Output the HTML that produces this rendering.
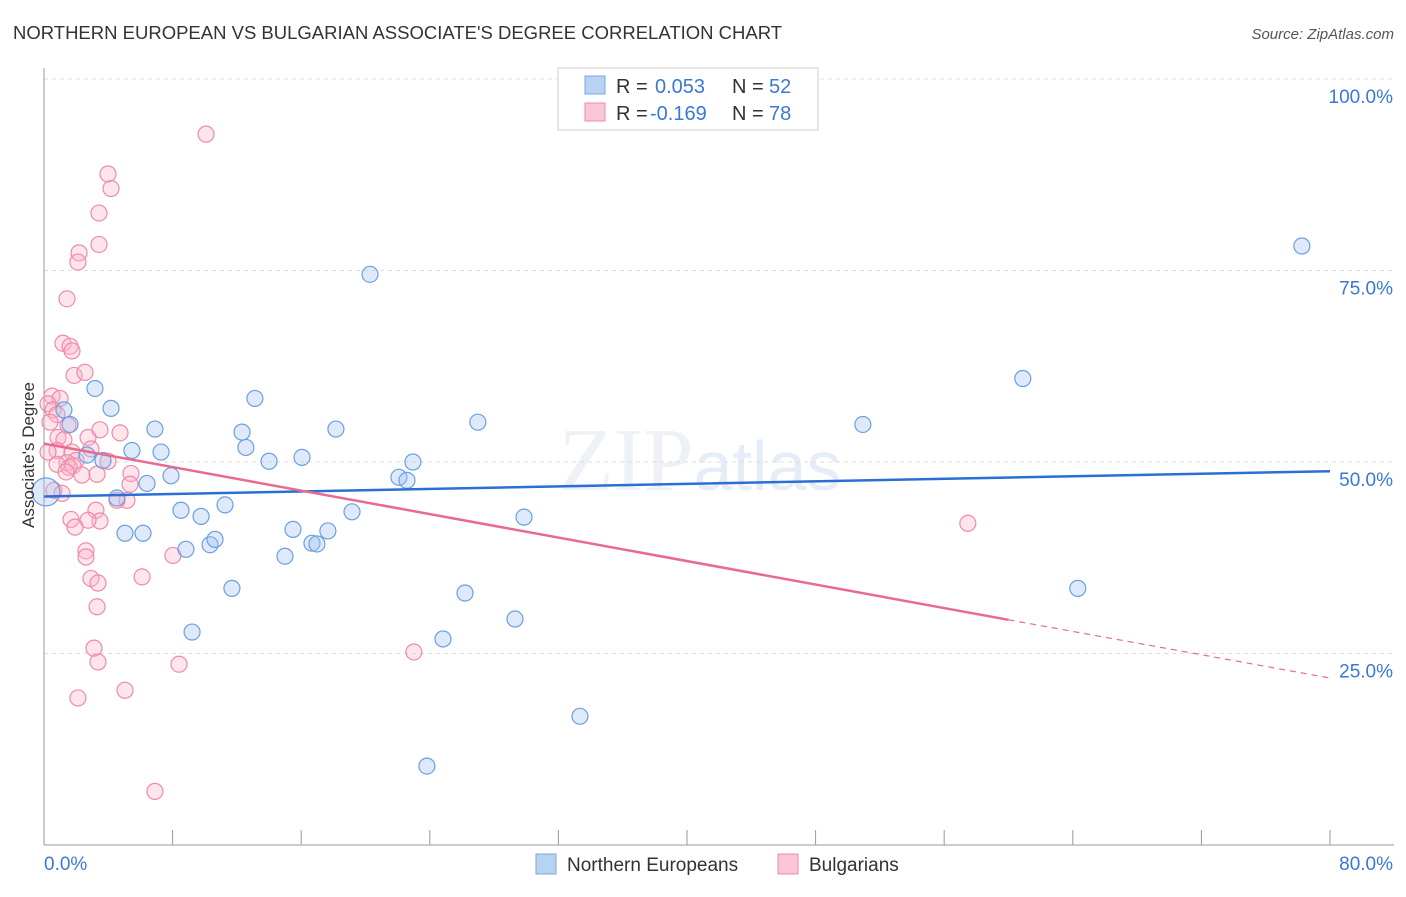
<!DOCTYPE html>
<html><head><meta charset="utf-8">
<style>
html,body{margin:0;padding:0;background:#fff;}
body{width:1406px;height:892px;overflow:hidden;font-family:"Liberation Sans",sans-serif;}
</style></head>
<body>
<svg id="chart" width="1406" height="892" xmlns="http://www.w3.org/2000/svg" font-family="Liberation Sans, sans-serif">
<text x="13" y="39" font-size="18.5" fill="#333">NORTHERN EUROPEAN VS BULGARIAN ASSOCIATE'S DEGREE CORRELATION CHART</text>
<text x="1394" y="39" font-size="15" fill="#555" font-style="italic" text-anchor="end">Source: ZipAtlas.com</text>
<text x="700" y="490" font-size="90" fill="#eef1f5" text-anchor="middle" font-family="Liberation Serif, serif">ZIP<tspan fill="#e6edf8" font-family="Liberation Sans, sans-serif" font-size="70">atlas</tspan></text>
<g id="grid"></g>
<g id="axes"></g>
<g id="marks"></g>
<text transform="translate(34,455) rotate(-90)" font-size="17" fill="#333" text-anchor="middle">Associate's Degree</text>
<g>
<rect x="558" y="68" width="260" height="62" fill="#fff" stroke="#ccc"/>
<rect x="585" y="76" width="20" height="18" fill="#b8d2f2" stroke="#7aa7e0"/>
<text x="616" y="93" font-size="20" fill="#333">R = <tspan x="655" fill="#3a78d6">0.053</tspan><tspan x="732">N = </tspan><tspan x="769" fill="#3a78d6">52</tspan></text>
<rect x="585" y="103" width="20" height="18" fill="#f9c6d5" stroke="#f08aaa"/>
<text x="616" y="120" font-size="20" fill="#333">R = <tspan x="650" fill="#3a78d6">-0.169</tspan><tspan x="732">N = </tspan><tspan x="769" fill="#3a78d6">78</tspan></text>
</g>
<g>
<rect x="536" y="854" width="20" height="20" fill="#b8d2f2" stroke="#7aa7e0"/>
<text x="567" y="871" font-size="19" fill="#333">Northern Europeans</text>
<rect x="778" y="854" width="20" height="20" fill="#f9c6d5" stroke="#f08aaa"/>
<text x="809" y="871" font-size="19" fill="#333">Bulgarians</text>
</g>
</svg>
<script>
const blueX=[0.12,1.24,1.62,3.17,4.17,2.67,3.67,4.54,5.04,5.47,6.16,6.41,6.90,7.28,7.90,8.52,8.83,9.21,9.77,10.33,10.64,11.26,11.69,12.32,12.56,13.12,14.0,14.99,15.49,16.05,16.67,16.98,17.66,18.16,19.16,20.28,22.08,22.58,22.95,23.82,24.82,26.19,26.99,29.3,29.86,33.34,50.94,60.89,64.31,78.25];
const blueY=[46.1,56.8,54.9,59.6,57.0,50.9,50.2,45.3,40.7,51.5,40.7,47.2,54.3,51.3,48.2,43.7,38.6,27.8,42.9,39.2,39.9,44.4,33.5,53.9,51.9,58.3,50.1,37.7,41.2,50.6,39.4,39.3,41.0,54.3,43.5,74.5,48.0,47.6,50.0,10.3,26.9,32.9,55.2,29.5,42.8,16.8,54.9,60.9,33.5,78.2];
const pinkX=[10.08,3.98,4.17,3.42,3.42,2.18,2.11,1.43,1.18,1.62,1.74,1.87,2.55,0.50,1.0,0.25,0.56,0.81,1.49,0.37,0.87,1.24,2.74,3.48,4.73,0.81,0.25,1.74,2.92,1.99,1.43,1.56,1.80,3.98,0.81,1.37,2.36,3.30,5.41,5.35,5.16,0.62,1.12,4.54,3.23,1.68,3.48,2.74,1.93,2.61,2.61,2.92,3.36,6.10,3.30,8.02,3.11,3.36,8.40,5.04,2.11,6.90,23.01,57.47];
const pinkY=[92.8,87.6,85.7,82.5,78.4,77.3,76.1,71.3,65.5,65.1,64.5,61.3,61.7,58.6,58.3,57.6,56.8,56.2,54.8,55.2,53.2,52.9,53.2,54.2,53.8,51.5,51.3,51.3,51.7,50.2,49.9,49.3,49.5,50.1,49.7,48.7,48.3,48.4,48.5,47.1,45.0,46.3,45.9,45.0,43.7,42.5,42.3,42.4,41.5,38.4,37.6,34.8,34.2,35.0,31.1,37.8,25.7,23.9,23.6,20.2,19.2,7.0,25.2,42.0];
const blueTrend=[45.5,48.8];
const pinkTrend=[52.4,29.4,21.8];
const pinkTrendX=[0,60,80];
const yTicks=[25,50,75,100];
const yTickLabels=["25.0%","50.0%","75.0%","100.0%"];
const xTickVals=[0,8,16,24,32,40,48,56,64,72,80];
const NS="http://www.w3.org/2000/svg";
const sx=v=>44+v/80*1286;
const sy=v=>845-v/100*766;
function mk(tag,attrs,parent){const e=document.createElementNS(NS,tag);for(const k in attrs)e.setAttribute(k,attrs[k]);parent.appendChild(e);return e;}
const grid=document.getElementById('grid'),axes=document.getElementById('axes'),marks=document.getElementById('marks');
yTicks.forEach((t,i)=>{
  const l=mk('line',{x1:44,y1:sy(t),x2:1394,y2:sy(t),stroke:'#ddd','stroke-dasharray':'4,4'},grid);
  
  
  const tx=mk('text',{x:1393,y:sy(t)+24,'font-size':19,fill:'#3a78d6','text-anchor':'end'},axes);
  tx.textContent=yTickLabels[i];
  
  
});
mk('line',{x1:44,y1:68,x2:44,y2:845,stroke:'#999'},axes);
mk('line',{x1:44,y1:845,x2:1394,y2:845,stroke:'#999'},axes);
xTickVals.forEach(v=>{const t=mk('line',{x1:sx(v),y1:830,x2:sx(v),y2:845,stroke:'#999'},axes);
  
  });
const x0=mk('text',{x:44,y:870,'font-size':19,fill:'#3a78d6'},axes);x0.textContent='0.0%';


const x1=mk('text',{x:1393,y:870,'font-size':19,fill:'#3a78d6','text-anchor':'end'},axes);x1.textContent='80.0%';


pinkX.forEach((x,i)=>{const c=mk('circle',{cx:sx(x),cy:sy(pinkY[i]),r:8,fill:'rgba(249,180,200,0.35)',stroke:'#f08aaa','stroke-width':1.2},marks);
  
  });
blueX.forEach((x,i)=>{const c=mk('circle',{cx:sx(x),cy:sy(blueY[i]),r:i===0?14:8,fill:'rgba(160,195,240,0.35)',stroke:'#6b9fe0','stroke-width':1.2},marks);
  
  });
const bt=mk('line',{x1:sx(0),y1:sy(blueTrend[0]),x2:sx(80),y2:sy(blueTrend[1]),stroke:'#2a6fd6','stroke-width':2.5},marks);


const pt=mk('line',{x1:sx(pinkTrendX[0]),y1:sy(pinkTrend[0]),x2:sx(pinkTrendX[1]),y2:sy(pinkTrend[1]),stroke:'#e86a92','stroke-width':2.5},marks);


const pd=mk('line',{x1:sx(pinkTrendX[1]),y1:sy(pinkTrend[1]),x2:sx(pinkTrendX[2]),y2:sy(pinkTrend[2]),stroke:'#e86a92','stroke-width':1.2,'stroke-dasharray':'6,5'},marks);


</script>
</body></html>
